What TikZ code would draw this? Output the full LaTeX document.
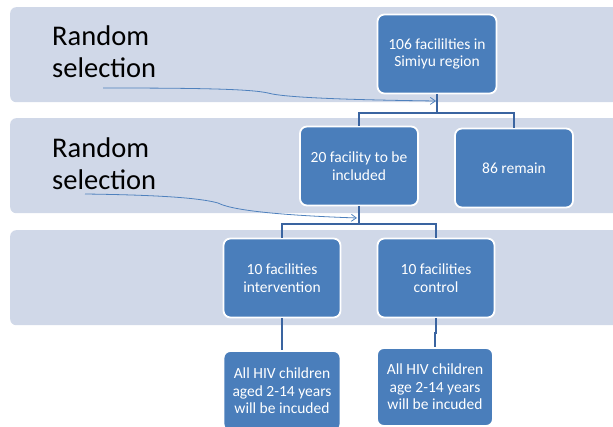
\documentclass[tikz,border=0pt]{standalone}
\usepackage{fontspec}
\setmainfont{Carlito}
\usepackage{tikz}
\usetikzlibrary{arrows.meta,positioning}
\definecolor{bandgrey}{RGB}{208,216,232}
\definecolor{boxblue}{RGB}{74,126,187}
\definecolor{linkblue}{RGB}{58,100,160}
\definecolor{pickblue}{RGB}{79,129,189}

\begin{document}
\begin{tikzpicture}[x=1pt, y=-1pt,
    band/.style={rectangle, rounded corners=6pt, fill=bandgrey, inner sep=0pt,
                 minimum width=615pt, minimum height=95pt, anchor=north west},
    box/.style={rectangle, rounded corners=7pt, fill=boxblue, draw=white,
                line width=1.8pt, text=white, align=center, inner sep=2pt,
                minimum width=118pt, minimum height=79pt,
                font=\fontsize{15.5}{17.5}\selectfont},
    conn/.style={linkblue, line width=2pt},
    pick/.style={pickblue, line width=0.8pt, -{Straight Barb[length=5pt,width=7pt]}},
    note/.style={align=left, anchor=north west, inner sep=0pt,
                 font=\fontsize{28.5}{32}\selectfont}]
    \useasboundingbox (0,0) rectangle (613,427);

    %% background bands
    \node[band] (band1) at (10,7) {};
    \node[band] (band2) at (10,118) {};
    \node[band] (band3) at (10,230) {};

    %% text on the left
    \node[note] (rand1) at (52,26) {Random\\selection};
    \node[note] (rand2) at (52,138) {Random\\selection};

    %% boxes
    \node[box, minimum width=119pt] (all) at (437,54)
      {106 facililties in\\Simiyu region};
    \node[box, minimum width=118pt] (chosen) at (359,166)
      {20 facility to be\\included};
    \node[box, minimum width=118pt] (rest) at (514,168) {86 remain};
    \node[box, minimum width=117pt] (interv) at (282,278)
      {10 facilities\\intervention};
    \node[box, minimum width=117pt] (control) at (436,278)
      {10 facilities\\control};
    \node[box, minimum width=117pt, minimum height=80pt] (kidsI) at (282,391)
      {All HIV children\\aged 2-14 years\\will be incuded};
    \node[box, minimum width=116pt, minimum height=78pt] (kidsC) at (435,387)
      {All HIV children\\age 2-14 years\\will be incuded};

    %% tree connectors
    \draw[conn] (all.south) -- ++(0,19) -| (chosen.north);
    \draw[conn] (all.south) -- ++(0,19) -| (rest.north);
    \draw[conn] (chosen.south) -- ++(0,18) -| (interv.north);
    \draw[conn] (chosen.south) -- ++(0,18) -| (control.north);
    \draw[conn] (interv.south) -- (interv.south |- kidsI.north);
    \draw[conn] (control.south) -- ++(0,15) -| (kidsC.north);

    %% random selection arrows
    \coordinate (from1) at (103,88);
    \coordinate (to1) at (436,101);
    \coordinate (from2) at (85,194);
    \coordinate (to2) at (357,218);
    \draw[pick] (from1) .. controls (200,88) and (250,89) .. (268,93)
      .. controls (285,98) and (360,100) .. (to1);
    \draw[pick] (from2) .. controls (160,195) and (200,198) .. (218,203)
      .. controls (235,212) and (300,216) .. (to2);
\end{tikzpicture}
\end{document}
